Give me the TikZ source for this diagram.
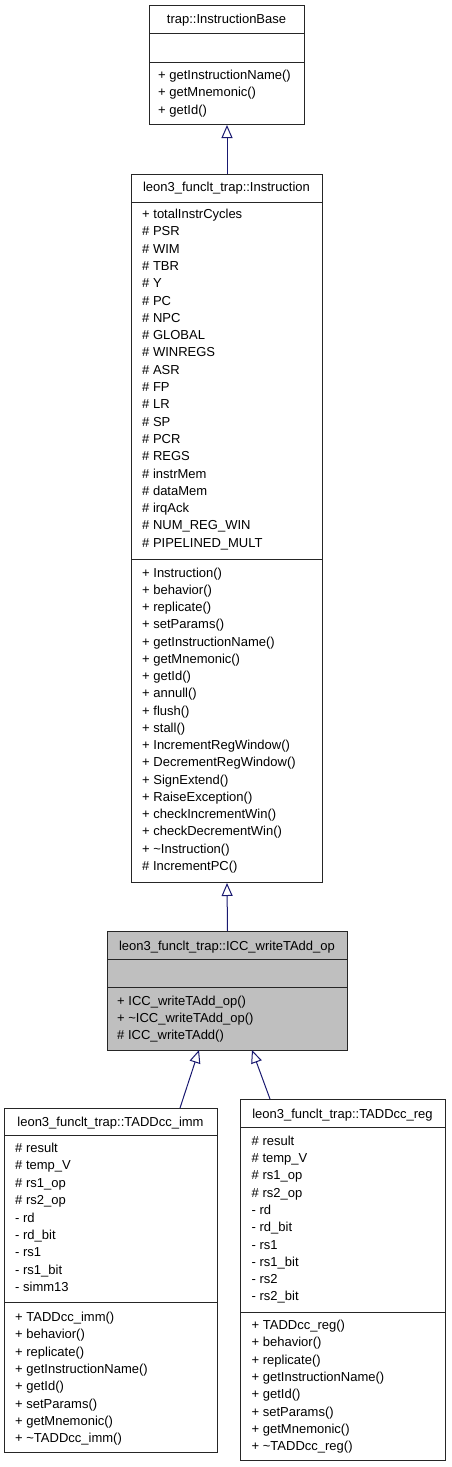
\documentclass[tikz,border=0pt]{standalone}
\usepackage{fontspec}
\setmainfont{Liberation Sans}
\usetikzlibrary{arrows.meta}
\definecolor{edgeblue}{HTML}{191970}
\definecolor{boxgray}{HTML}{BFBFBF}

\begin{document}
\begin{tikzpicture}[x=1pt, y=-1pt,
  every node/.style={font=\fontsize{13}{15}\selectfont, inner sep=0pt},
  cls/.style={draw=black!85, line width=1pt, anchor=north west},
  divider/.style={draw=black!85, line width=1pt},
  member/.style={anchor=base west},
  title/.style={anchor=base},
  inherit/.style={edgeblue, line width=1pt, -{Triangle[open, length=13pt, width=11pt]}}]
\useasboundingbox (0,0) rectangle (451,1467);

% trap::InstructionBase
\node[cls, minimum width=155pt, minimum height=119pt] (base) at (149,5) {};
\draw[divider] (149,33) -- (304,33) (149,62) -- (304,62);
\node[title] (baset) at (226.5,23.5) {trap::InstructionBase};
\foreach \m [count=\i] in {+ getInstructionName(), + getMnemonic(), + getId()}
  \node[member] (basem\i) at (158,62.2+17.3*\i) {\m};

% leon3_funclt_trap::Instruction
\node[cls, minimum width=191pt, minimum height=708pt] (instr) at (131,174) {};
\draw[divider] (131,202) -- (322,202) (131,559.5) -- (322,559.5);
\node[title] (instrt) at (226.5,191.5) {leon3\_funclt\_trap::Instruction};
\foreach \m [count=\i] in {+ totalInstrCycles, \# PSR, \# WIM, \# TBR, \# Y, \# PC, \# NPC,
    \# GLOBAL, \# WINREGS, \# ASR, \# FP, \# LR, \# SP, \# PCR, \# REGS, \# instrMem,
    \# dataMem, \# irqAck, \# NUM\_REG\_WIN, \# PIPELINED\_MULT}
  \node[member] (instra\i) at (142,201.2+17.3*\i) {\m};
\foreach \m [count=\i] in {+ Instruction(), + behavior(), + replicate(), + setParams(),
    + getInstructionName(), + getMnemonic(), + getId(), + annull(), + flush(), + stall(),
    + IncrementRegWindow(), + DecrementRegWindow(), + SignExtend(), + RaiseException(),
    + checkIncrementWin(), + checkDecrementWin(), + \textasciitilde Instruction(), \# IncrementPC()}
  \node[member] (instrm\i) at (142,559.75+17.25*\i) {\m};

% leon3_funclt_trap::ICC_writeTAdd_op
\node[cls, fill=boxgray, minimum width=240pt, minimum height=119pt] (icc) at (107,931) {};
\draw[divider] (107,959) -- (347,959) (107,987) -- (347,987);
\node[title] (icct) at (227,950) {leon3\_funclt\_trap::ICC\_writeTAdd\_op};
\foreach \m [count=\i] in {+ ICC\_writeTAdd\_op(), + \textasciitilde ICC\_writeTAdd\_op(), \# ICC\_writeTAdd()}
  \node[member] (iccm\i) at (117,988.5+17*\i) {\m};

% leon3_funclt_trap::TADDcc_imm
\node[cls, minimum width=213pt, minimum height=344pt] (imm) at (4,1108) {};
\draw[divider] (4,1135.5) -- (217,1135.5) (4,1302) -- (217,1302);
\node[title] (immt) at (110.5,1126.5) {leon3\_funclt\_trap::TADDcc\_imm};
\foreach \m [count=\i] in {\# result, \# temp\_V, \# rs1\_op, \# rs2\_op, - rd, - rd\_bit,
    - rs1, - rs1\_bit, - simm13}
  \node[member] (imma\i) at (15,1135.1+17.4*\i) {\m};
\foreach \m [count=\i] in {+ TADDcc\_imm(), + behavior(), + replicate(), + getInstructionName(),
    + getId(), + setParams(), + getMnemonic(), + \textasciitilde TADDcc\_imm()}
  \node[member] (immm\i) at (15,1304.2+17.3*\i) {\m};

% leon3_funclt_trap::TADDcc_reg
\node[cls, minimum width=205pt, minimum height=361pt] (reg) at (240,1099) {};
\draw[divider] (240,1127.5) -- (445,1127.5) (240,1312) -- (445,1312);
\node[title] (regt) at (342.5,1118.5) {leon3\_funclt\_trap::TADDcc\_reg};
\foreach \m [count=\i] in {\# result, \# temp\_V, \# rs1\_op, \# rs2\_op, - rd, - rd\_bit,
    - rs1, - rs1\_bit, - rs2, - rs2\_bit}
  \node[member] (rega\i) at (251.5,1127.9+17.3*\i) {\m};
\foreach \m [count=\i] in {+ TADDcc\_reg(), + behavior(), + replicate(), + getInstructionName(),
    + getId(), + setParams(), + getMnemonic(), + \textasciitilde TADDcc\_reg()}
  \node[member] (regm\i) at (251.5,1312.2+17.3*\i) {\m};

% inheritance
\coordinate (immtop) at (180,1108);
\coordinate (regtop) at (270,1099);
\coordinate (iccleft) at (199,1050);
\coordinate (iccright) at (252,1050);
\draw[inherit] (instr.north) -- (base.south);
\draw[inherit] (icc.north) -- (instr.south);
\draw[inherit] (immtop) -- (iccleft);
\draw[inherit] (regtop) -- (iccright);
\end{tikzpicture}
\end{document}
